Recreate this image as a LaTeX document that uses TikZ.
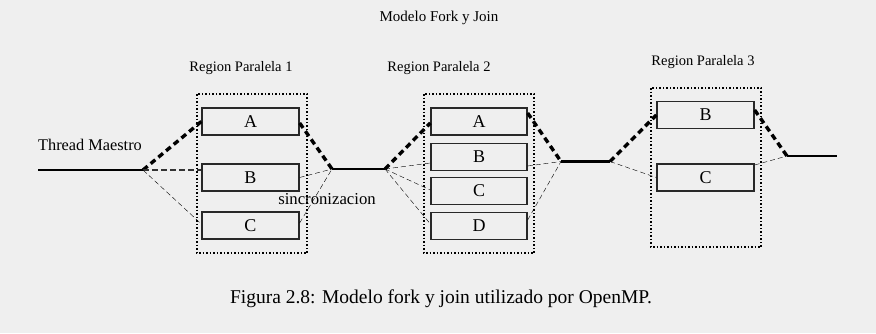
\documentclass[tikz,border=0pt]{standalone}
\usepackage{fontspec}
\setmainfont{Liberation Serif}
\definecolor{bg}{RGB}{239,239,239}
\definecolor{boxline}{RGB}{40,40,40}
\definecolor{thin}{RGB}{110,110,110}
\begin{document}
\begin{tikzpicture}[x=1pt,y=-1pt,
  threadbox/.style={draw=boxline,line width=1.3pt,minimum width=97pt,minimum height=27pt,inner sep=0pt,font=\fontsize{18}{18}\selectfont},
  region/.style={draw=black,line width=1.1pt,dash pattern=on 1.5pt off 2pt},
  master/.style={line width=2.6pt,black},
  heavy/.style={line width=3.4pt,black,dash pattern=on 6pt off 4pt},
  darkdash/.style={line width=1.2pt,black!80,dash pattern=on 6pt off 3pt},
  graydash/.style={line width=0.9pt,thin,dash pattern=on 5pt off 3pt},
  lbl/.style={font=\fontsize{15}{15}\selectfont,inner sep=0pt}]
\fill[bg] (0,0) rectangle (876,333);
\useasboundingbox (0,0) rectangle (876,333);

% titles
\node[lbl] (title) at (439,18) {Modelo Fork y Join};
\node[lbl,font=\fontsize{14.5}{14.5}\selectfont] (r1t) at (241,68) {Region Paralela 1};
\node[lbl,font=\fontsize{14.5}{14.5}\selectfont] (r2t) at (439,68) {Region Paralela 2};
\node[lbl,font=\fontsize{14.5}{14.5}\selectfont] (r3t) at (703,62) {Region Paralela 3};
\node[lbl,font=\fontsize{16.3}{16.3}\selectfont] (tm) at (90,145) {Thread Maestro};
\node[lbl,font=\fontsize{16.7}{16.7}\selectfont] (sync) at (327,199) {sincronizacion};
\node[font=\fontsize{19.5}{19.5}\selectfont,inner sep=0pt] (cap) at (441,299) {Figura 2.8: Modelo fork y join utilizado por OpenMP.};

% regions
\draw[region] (197,94) rectangle (307,253);
\draw[region] (424,94) rectangle (534,253);
\draw[region] (651,88) rectangle (761,247);

% boxes
\node[threadbox] (A1) at (250.5,121.5) {A};
\node[threadbox] (B1) at (250.5,177.5) {B};
\node[threadbox] (C1) at (250.5,225.5) {C};
\node[threadbox,minimum width=96pt] (A2) at (479,121.5) {A};
\node[threadbox,minimum width=96pt] (B2) at (479,157) {B};
\node[threadbox,minimum width=96pt] (C2) at (479,191) {C};
\node[threadbox,minimum width=96pt] (D2) at (479,226) {D};
\node[threadbox] (B3) at (705.5,115) {B};
\node[threadbox] (C3) at (705.5,177.5) {C};

% points
\coordinate (M0) at (38,170);
\coordinate (P1) at (143,170);
\coordinate (J1) at (332,169);
\coordinate (P2) at (385,169);
\coordinate (J2) at (561,161.5);
\coordinate (P3) at (610,161.5);
\coordinate (J3) at (787,156);
\coordinate (E) at (837,156);

% master thread
\draw[master] (M0) -- (P1);
\draw[master] (J1) -- (P2);
\draw[master] (J2) -- (P3);
\draw[master] (J3) -- (E);

% region 1
\draw[heavy] (P1) -- (A1.west);
\draw[darkdash] (P1) -- ([yshift=7.5pt]B1.west);
\draw[graydash] (P1) -- ([yshift=1.5pt]C1.west);
\draw[heavy] ([yshift=-1.5pt]A1.east) -- (J1);
\draw[graydash] (B1.east) -- (J1);
\draw[graydash] ([yshift=2.5pt]C1.east) -- (J1);

% region 2
\draw[heavy] (P2) -- ([yshift=-1.5pt]A2.west);
\draw[graydash] (P2) -- ([yshift=-6pt]B2.west);
\draw[graydash] (P2) -- ([yshift=1pt]C2.west);
\draw[graydash] (P2) -- ([yshift=2pt]D2.west);
\draw[heavy] ([yshift=8.5pt]A2.east) -- (J2);
\draw[graydash] ([yshift=-9pt]B2.east) -- (J2);
\draw[graydash] ([yshift=6pt]D2.east) -- (J2);

% region 3
\draw[heavy] (P3) -- (B3.west);
\draw[graydash] (P3) -- (C3.west);
\draw[heavy] ([yshift=5pt]B3.east) -- (J3);
\draw[graydash] ([yshift=12.5pt]C3.east) -- (J3);
\end{tikzpicture}
\end{document}
